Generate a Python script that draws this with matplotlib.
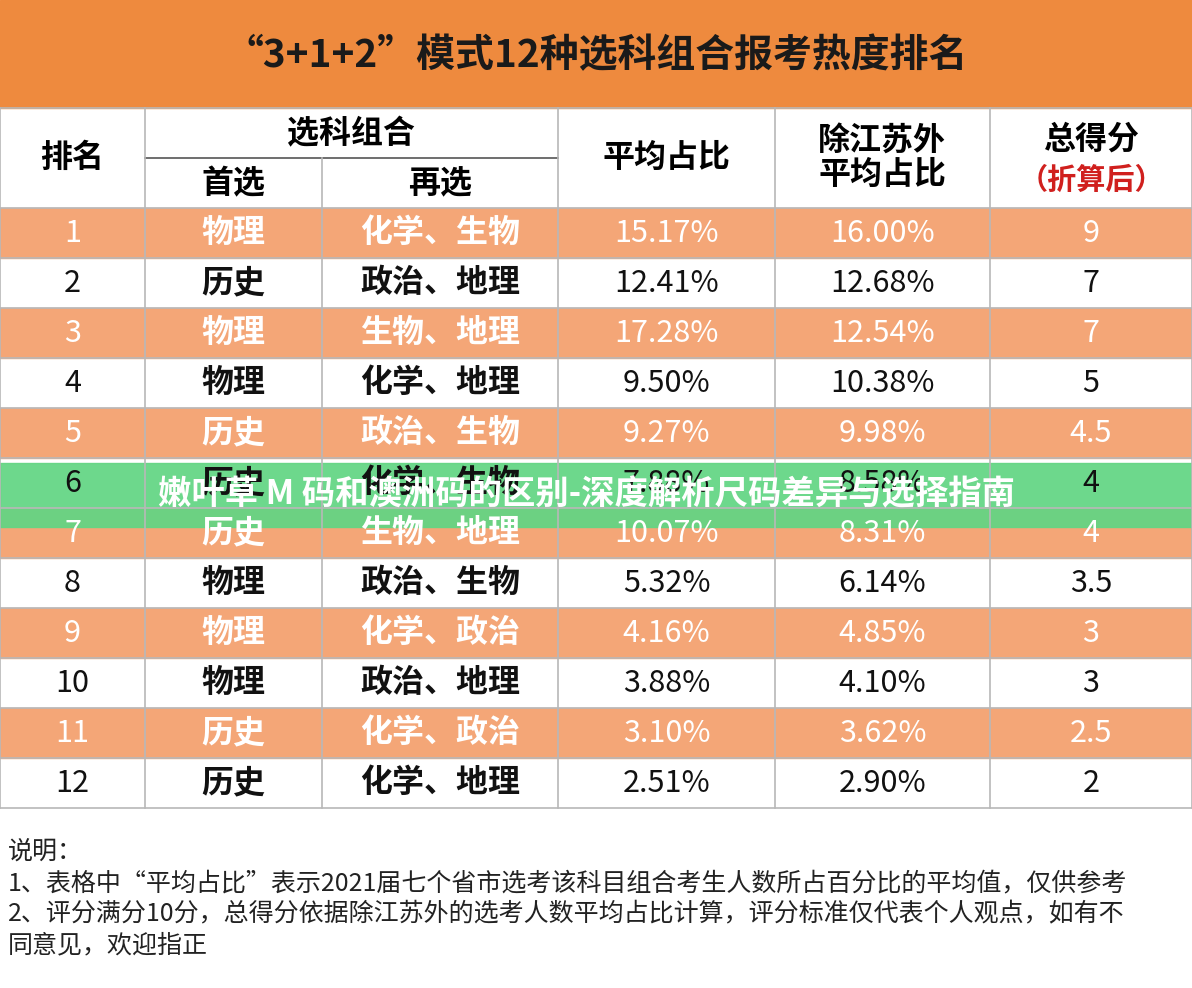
import matplotlib
matplotlib.use("Agg")
import matplotlib.pyplot as plt
from matplotlib.patches import Rectangle

plt.rcParams['font.family'] = ['Noto Sans CJK SC', 'DejaVu Sans']

title = "“3+1+2”模式12种选科组合报考热度排名"
ranks = ["1","2","3","4","5","6","7","8","9","10","11","12"]
first = ["物理","历史","物理","物理","历史","历史","历史","物理","物理","物理","历史","历史"]
second = ["化学、生物","政治、地理","生物、地理","化学、地理","政治、生物","化学、生物","生物、地理",
          "政治、生物","化学、政治","政治、地理","化学、政治","化学、地理"]
avg = ["15.17%","12.41%","17.28%","9.50%","9.27%","7.88%","10.07%","5.32%","4.16%","3.88%","3.10%","2.51%"]
avg_ex = ["16.00%","12.68%","12.54%","10.38%","9.98%","8.58%","8.31%","6.14%","4.85%","4.10%","3.62%","2.90%"]
score = ["9","7","7","5","4.5","4","4","3.5","3","3","2.5","2"]
notes = ["说明：",
         "1、表格中“平均占比”表示2021届七个省市选考该科目组合考生人数所占百分比的平均值，仅供参考",
         "2、评分满分10分，总得分依据除江苏外的选考人数平均占比计算，评分标准仅代表个人观点，如有不",
         "同意见，欢迎指正"]
banner = "嫩叶草 M 码和澳洲码的区别-深度解析尺码差异与选择指南"

W, H = 1192, 988
fig = plt.figure(figsize=(W/100, H/100), dpi=100)
ax = fig.add_axes([0, 0, 1, 1])
ax.set_xlim(0, W); ax.set_ylim(H, 0); ax.axis('off')

orange = '#EE8A3E'; light = '#F4A677'; grid = '#B8B8B8'
ax.add_patch(Rectangle((0, 0), W, 108, color=orange))
ax.text(W/2, 56, title, ha='center', va='center', fontsize=28, fontweight='bold', color='#1a1a1a')

cols = [0, 145, 322, 558, 775, 990, W]
top, hh, rh = 108, 100, 50
ax.text(72, 158, "排名", ha='center', va='center', fontsize=23, fontweight='bold')
ax.text(351, 134, "选科组合", ha='center', va='center', fontsize=23, fontweight='bold')
ax.text(233, 184, "首选", ha='center', va='center', fontsize=23, fontweight='bold')
ax.text(440, 184, "再选", ha='center', va='center', fontsize=23, fontweight='bold')
ax.text(666, 158, "平均占比", ha='center', va='center', fontsize=23, fontweight='bold')
ax.text(882, 158, "除江苏外\n平均占比", ha='center', va='center', fontsize=23, fontweight='bold', linespacing=1.1)
ax.text(1091, 140, "总得分", ha='center', va='center', fontsize=23, fontweight='bold')
ax.text(1091, 180, "（折算后）", ha='center', va='center', fontsize=21, fontweight='bold', color='#D0201E')

y0 = top + hh
for i in range(len(ranks)):
    y = y0 + i * rh
    odd = i % 2 == 0
    if odd:
        ax.add_patch(Rectangle((0, y), W, rh, color=light))
    c = 'white' if odd else '#111111'
    vals = [ranks[i], first[i], second[i], avg[i], avg_ex[i], score[i]]
    for j, v in enumerate(vals):
        xc = (cols[j] + cols[j+1]) / 2
        ax.text(xc, y + rh/2, v, ha='center', va='center', fontsize=23 if j in (1, 2) else 22,
                fontweight='bold' if j in (1, 2) else 'medium', color=c)

yb = y0 + len(ranks) * rh
for k in range(len(ranks) + 1):
    ax.plot([0, W], [y0 + k*rh]*2, color=grid, lw=1.2)
ax.plot([0, W], [top]*2, color=grid, lw=1.2)
ax.plot([145, 558], [158, 158], color='#555555', lw=1.2)
for j, x in enumerate(cols):
    ax.plot([x, x], [158 if j == 2 else top, yb], color=grid, lw=1.2)

for k, t in enumerate(notes):
    ax.text(8, 852 + k*31, t, ha='left', va='center', fontsize=18, color='#222222')

ax.add_patch(Rectangle((0, 463), W, 64, color='#62D583', alpha=0.93))
ax.text(158, 495, banner, ha='left', va='center', fontsize=24, fontweight='bold', color='white')

fig.savefig('out.png', dpi=100)
